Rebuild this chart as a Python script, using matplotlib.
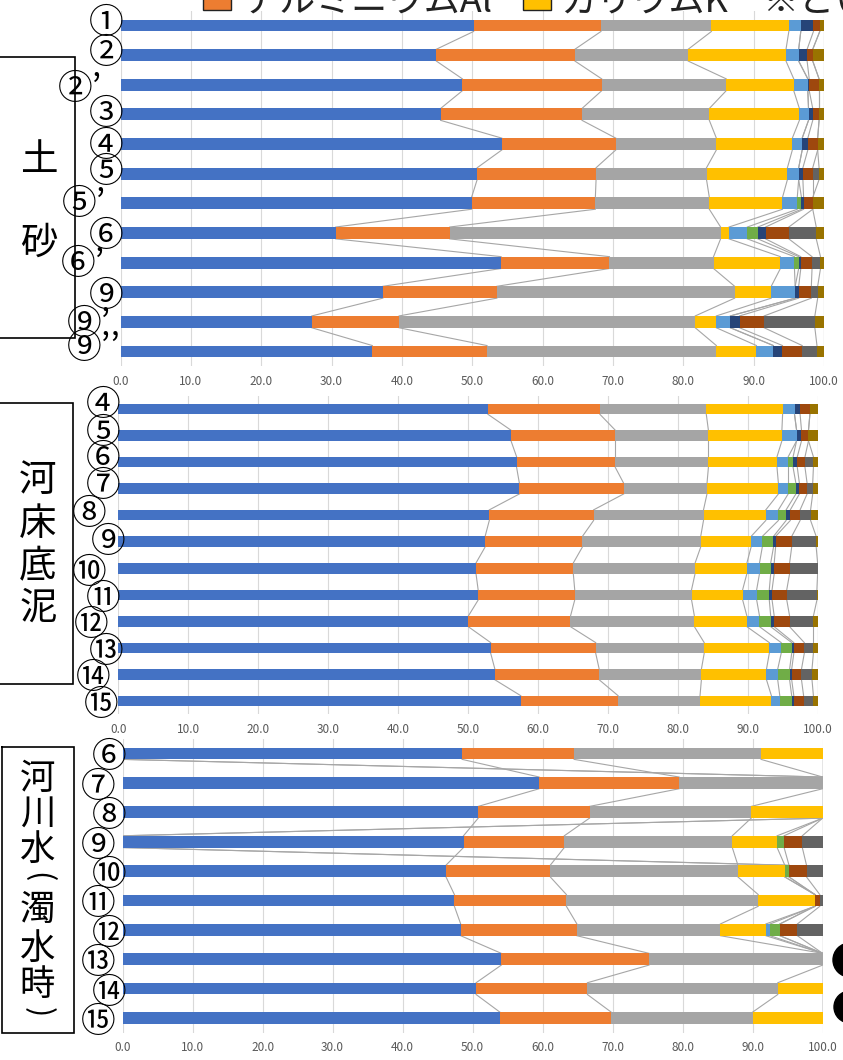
import numpy as np
import matplotlib
matplotlib.use("Agg")
import matplotlib.pyplot as plt
from matplotlib.patches import Rectangle, Circle

plt.rcParams['font.family'] = ['Noto Sans CJK JP', 'DejaVu Sans']

nan = np.nan

# ---------------------------------------------------------------------------
# Data : composition [%] per sample, series order = colour order below
# ---------------------------------------------------------------------------
series_colors = ['#4472C4', '#ED7D31', '#A5A5A5', '#FFC000', '#5B9BD5',
                 '#70AD47', '#264478', '#9E480E', '#636363', '#997300']

legend_names = ['アルミニウムAl', 'カリウムK']   # orange, yellow (rest cut off)

soil_labels = ['①', '②', '②’', '③', '④', '⑤', '⑤’', '⑥', '⑥’', '⑨', '⑨’', '⑨’’']
soil_values = [
    [50.2, 18.1, 15.7, 11.0, 1.7, 0.0, 1.8, 0.9, 0.0, 0.6],
    [44.9, 19.7, 16.1, 13.9, 1.8, 0.0, 1.2, 0.8, 0.0, 1.6],
    [48.6, 19.8, 17.7, 9.6, 2.0, 0.0, 0.2, 1.4, 0.0, 0.7],
    [45.5, 20.1, 18.1, 12.8, 1.3, 0.0, 0.6, 0.9, 0.0, 0.7],
    [54.2, 16.2, 14.3, 10.8, 1.4, 0.0, 0.8, 1.4, 0.0, 0.9],
    [50.7, 16.9, 15.7, 11.5, 1.6, 0.0, 0.6, 1.4, 0.9, 0.7],
    [49.9, 17.6, 16.2, 10.4, 2.1, 0.6, 0.3, 1.3, 0.0, 1.6],
    [30.6, 16.2, 38.5, 1.2, 2.6, 1.5, 1.1, 3.3, 3.9, 1.1],
    [54.1, 15.4, 14.8, 9.5, 2.0, 0.6, 0.3, 1.6, 1.2, 0.5],
    [37.3, 16.2, 33.8, 5.2, 3.4, 0.0, 0.5, 1.8, 0.9, 0.9],
    [27.2, 12.4, 42.1, 3.0, 2.0, 0.0, 1.3, 3.5, 7.2, 1.3],
    [35.8, 16.3, 32.6, 5.7, 2.4, 0.0, 1.3, 2.8, 2.1, 1.0],
]

mud_labels = ['④', '⑤', '⑥', '⑦', '⑧', '⑨', '⑩', '⑪', '⑫', '⑬', '⑭', '⑮']
mud_values = [
    [52.8, 16.0, 15.2, 10.9, 1.7, 0.0, 0.8, 1.4, 0.0, 1.2],
    [56.1, 14.9, 13.3, 10.5, 2.1, 0.0, 0.7, 1.0, 0.0, 1.4],
    [56.9, 14.1, 13.3, 9.8, 1.6, 0.7, 0.6, 1.1, 1.2, 0.7],
    [57.3, 14.9, 11.9, 10.2, 1.4, 1.1, 0.5, 1.1, 0.8, 0.8],
    [53.0, 14.9, 15.7, 8.9, 1.8, 1.1, 0.6, 1.4, 1.5, 1.1],
    [52.4, 13.9, 16.9, 7.2, 1.6, 1.6, 0.3, 2.3, 3.5, 0.3],
    [51.1, 13.9, 17.4, 7.4, 1.8, 1.6, 0.5, 2.2, 4.0, 0.1],
    [51.4, 13.8, 16.7, 7.3, 2.0, 1.8, 0.4, 2.1, 4.3, 0.2],
    [50.0, 14.6, 17.7, 7.5, 1.8, 1.6, 0.5, 2.2, 3.4, 0.7],
    [53.2, 15.0, 15.5, 9.3, 1.7, 1.5, 0.3, 1.5, 1.3, 0.7],
    [53.8, 14.9, 14.6, 9.3, 1.6, 1.7, 0.3, 1.4, 1.5, 0.9],
    [57.5, 13.9, 11.7, 10.2, 1.2, 1.7, 0.3, 1.4, 1.4, 0.7],
]

water_labels = ['⑥', '⑦', '⑧', '⑨', '⑩', '⑪', '⑫', '⑬', '⑭', '⑮']
water_values = [
    [48.5, 16.0, 26.7, 8.8, nan, 0.0, nan, 0.0, 0.0, 0.0],
    [59.5, 20.0, 20.5, 0.0, 0.0, 0.0, 0.0, 0.0, 0.0, 0.0],
    [50.8, 15.9, 23.1, 10.2, 0.0, 0.0, 0.0, 0.0, 0.0, 0.0],
    [48.7, 14.4, 24.0, 6.4, nan, 1.0, nan, 2.6, 2.9, 0.0],
    [46.2, 14.9, 26.8, 6.7, 0.0, 0.6, 0.0, 2.5, 2.3, 0.0],
    [47.4, 16.0, 27.4, 8.1, 0.0, 0.0, 0.0, 0.7, 0.4, 0.0],
    [48.3, 16.6, 20.5, 6.5, 0.6, 1.4, 0.0, 2.5, 3.6, 0.0],
    [54.1, 21.1, 24.8, 0.0, 0.0, 0.0, 0.0, 0.0, 0.0, 0.0],
    [50.5, 15.9, 27.2, 6.4, 0.0, 0.0, 0.0, 0.0, 0.0, 0.0],
    [53.9, 15.9, 20.2, 10.0, 0.0, 0.0, 0.0, 0.0, 0.0, 0.0],
]

xticks = np.arange(0, 101, 10)

# ---------------------------------------------------------------------------
# Layout (pixels)
# ---------------------------------------------------------------------------
W, H = 843, 1060
BAR_H = 0.4
LABEL_SHIFT = 3       # side bearing of the circled glyphs
LABEL_DROP = 4.5      # glyph sits a little high when va='center'

fig = plt.figure(figsize=(W / 100, H / 100), dpi=100)


def px_axes(left, top, right, bottom):
    return fig.add_axes([left / W, 1 - bottom / H, (right - left) / W, (bottom - top) / H])


def draw_panel(ax, labels, values, dx, dy):
    vals = np.array(values, dtype=float)
    n = len(labels)
    y = np.arange(n)
    filled = np.nan_to_num(vals)
    ends = np.cumsum(filled, axis=1)
    starts = ends - filled
    for k, c in enumerate(series_colors):
        ax.barh(y, filled[:, k], left=starts[:, k], height=BAR_H, color=c,
                edgecolor='none', zorder=3)
        # series lines (blank cells drop to 0)
        pos = np.where(np.isnan(vals[:, k]), 0.0, ends[:, k])
        for i in range(n - 1):
            ax.plot([pos[i], pos[i + 1]], [i + BAR_H / 2, i + 1 - BAR_H / 2],
                    color='#A6A6A6', lw=0.8, zorder=2)
    ax.set_xlim(0, 100)
    ax.set_ylim(n - 0.5, -0.5)
    ax.set_xticks(xticks)
    ax.set_xticklabels([f"{v:.1f}" for v in xticks])
    ax.set_yticks([])
    ax.tick_params(axis='x', length=0, pad=6, labelsize=8.5, labelcolor='#595959')
    ax.grid(axis='x', color='#D9D9D9', lw=0.8, zorder=0)
    ax.set_axisbelow(True)
    for s in ax.spines.values():
        s.set_visible(False)
    for i, lbl in enumerate(labels):
        ax.annotate(lbl, xy=(0, i), xycoords=ax.get_yaxis_transform(),
                    xytext=(LABEL_SHIFT - dx[i], dy[i] - LABEL_DROP),
                    textcoords='offset pixels',
                    ha='right', va='center', fontsize=25, color='black',
                    annotation_clip=False)


ax1 = px_axes(120.5, 10.7, 824, 366.3)
draw_panel(ax1, soil_labels, soil_values,
           [0, 0, 21, 0, 0, 0, 17, 0, 18, 0, 12, 3],
           [7, 6, 0, 4, 2, 6, 3, 1, 3, 0, 2, 7])

ax2 = px_axes(118.3, 395.7, 818.3, 714.3)
draw_panel(ax2, mud_labels, mud_values,
           [1, 1, 1, 1, 15, -4, 15, 1, 13, -2, 11, 3],
           [8, 7, 7, 6.5, 5, 4, -1, 0, 0, 0, 0, 0])

ax3 = px_axes(122.6, 738.8, 822.6, 1032.7)
draw_panel(ax3, water_labels, water_values,
           [-1, 10, -1, 10, -1, 10, -1, 10, -1, 10],
           [0] * 10)

# ---------------------------------------------------------------------------
# Overlay: group boxes, legend fragment, markers
# ---------------------------------------------------------------------------
ov = fig.add_axes([0, 0, 1, 1])
ov.set_xlim(0, W)
ov.set_ylim(H, 0)
ov.axis('off')
ov.patch.set_alpha(0)

box_kw = dict(color='black', lw=1.2, solid_joinstyle='miter')
ov.plot([-5, 75, 75, -5], [57, 57, 338, 338], **box_kw)
ov.plot([-5, 73.3, 73.3, -5], [403, 403, 683.5, 683.5], **box_kw)
ov.plot([1.5, 73.7, 73.7, 1.5, 1.5], [746.7, 746.7, 1033, 1033, 746.7], **box_kw)

big = dict(fontsize=27, ha='center', va='center', color='black')
for ch, yy in zip('土砂', [160, 243]):
    ov.text(39, yy, ch, **big)
for ch, yy in zip('河床底泥', [480, 524, 567, 608]):
    ov.text(38, yy, ch, **big)
big3 = dict(big, fontsize=25.5)
for ch, yy in zip('河川水', [779, 815, 850]):
    ov.text(37.5, yy, ch, **big3)
for ch, yy in zip('濁水時', [910, 949, 985]):
    ov.text(37.5, yy, ch, **big3)
# vertical-writing parentheses
ov.text(38, 877, '(', fontsize=22, rotation=-90, ha='center', va='center',
        color='black')
ov.text(38, 1012, ')', fontsize=22, rotation=-90, ha='center', va='center',
        color='black')

# legend (top cut off)
ov.add_patch(Rectangle((203, -20), 28, 30, facecolor=series_colors[1],
                       edgecolor='#222222', lw=1.0))
ov.text(243, 12, legend_names[0], fontsize=26, va='baseline', color='#222222')
ov.add_patch(Rectangle((523, -20), 28, 30, facecolor=series_colors[3],
                       edgecolor='#222222', lw=1.0))
ov.text(560, 12, legend_names[1], fontsize=26, va='baseline', color='#222222')
ov.text(762, 12, '※とい', fontsize=26, va='baseline', color='#222222')

ov.add_patch(Circle((850, 960), 17, color='black'))
ov.add_patch(Circle((850, 1007), 16, color='black'))

fig.savefig('out.png', dpi=100)
